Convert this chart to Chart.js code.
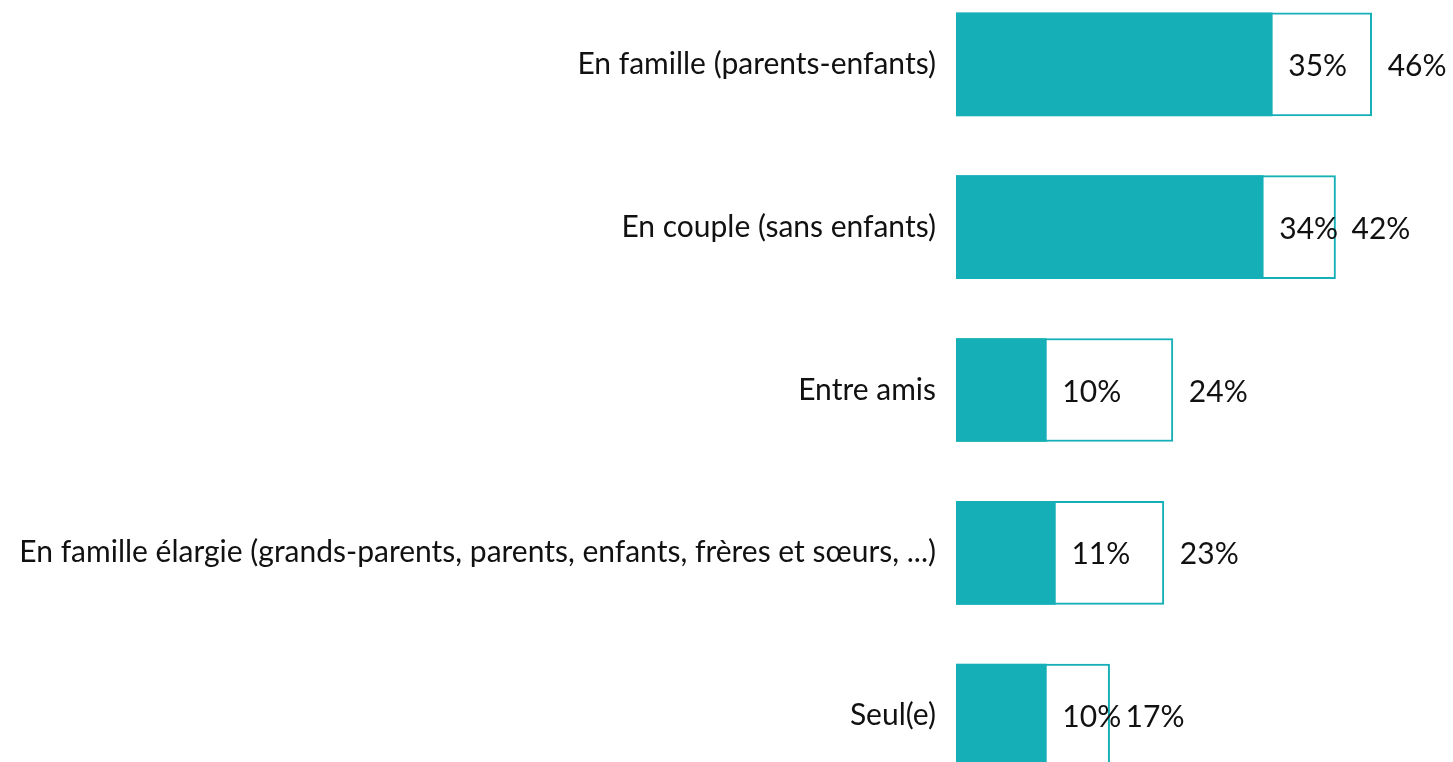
<!DOCTYPE html>
<html>
<head>
<meta charset="utf-8">
<script src="https://cdn.jsdelivr.net/npm/chart.js@4/dist/chart.umd.min.js"></script>
<style>
  html, body { margin: 0; padding: 0; background: #fff; overflow: hidden; }
  #chart { position: absolute; left: 0; top: -55px; }
</style>
</head>
<body>
<canvas id="chart" width="1453" height="890"></canvas>
<script>
// Categories and values
const categories = [
  "En famille (parents-enfants)",
  "En couple (sans enfants)",
  "Entre amis",
  "En famille élargie (grands-parents, parents, enfants, frères et sœurs, ...)",
  "Seul(e)"
];
const mainValues = [35, 34, 10, 11, 10];
const totalValues = [46, 42, 24, 23, 17];

const TEAL = "#14afb7";
const FONT = "Lato";

// Draws the percentage labels next to each bar
const valueLabels = {
  id: "valueLabels",
  afterDatasetsDraw(chart) {
    const ctx = chart.ctx;
    ctx.save();
    ctx.fillStyle = "#111";
    ctx.font = "30px " + FONT;
    ctx.textAlign = "left";
    ctx.textBaseline = "middle";
    chart.data.datasets.forEach((ds, di) => {
      const meta = chart.getDatasetMeta(di);
      meta.data.forEach((bar, i) => {
        ctx.fillText(ds.data[i] + "%", bar.x + 16, bar.y + 2);
      });
    });
    ctx.restore();
  }
};

new Chart(document.getElementById("chart"), {
  type: "bar",
  data: {
    labels: categories,
    datasets: [
      {
        label: "main",
        data: mainValues,
        backgroundColor: TEAL,
        borderWidth: 0,
        grouped: false
      },
      {
        label: "total",
        data: totalValues,
        backgroundColor: "#ffffff",
        borderColor: TEAL,
        borderWidth: 2,
        grouped: false
      }
    ]
  },
  options: {
    indexAxis: "y",
    responsive: false,
    animation: false,
    barThickness: 103,
    layout: { padding: 0 },
    plugins: {
      legend: { display: false },
      tooltip: { enabled: false }
    },
    scales: {
      x: {
        display: false,
        min: 0,
        max: 55
      },
      y: {
        grid: { display: false, drawTicks: false },
        border: { display: false },
        ticks: {
          color: "#111",
          padding: 20,
          font: { family: FONT, size: 30 }
        },
        afterFit(scale) {
          scale.width = 956;
        }
      }
    }
  },
  plugins: [valueLabels]
});
</script>
</body>
</html>
